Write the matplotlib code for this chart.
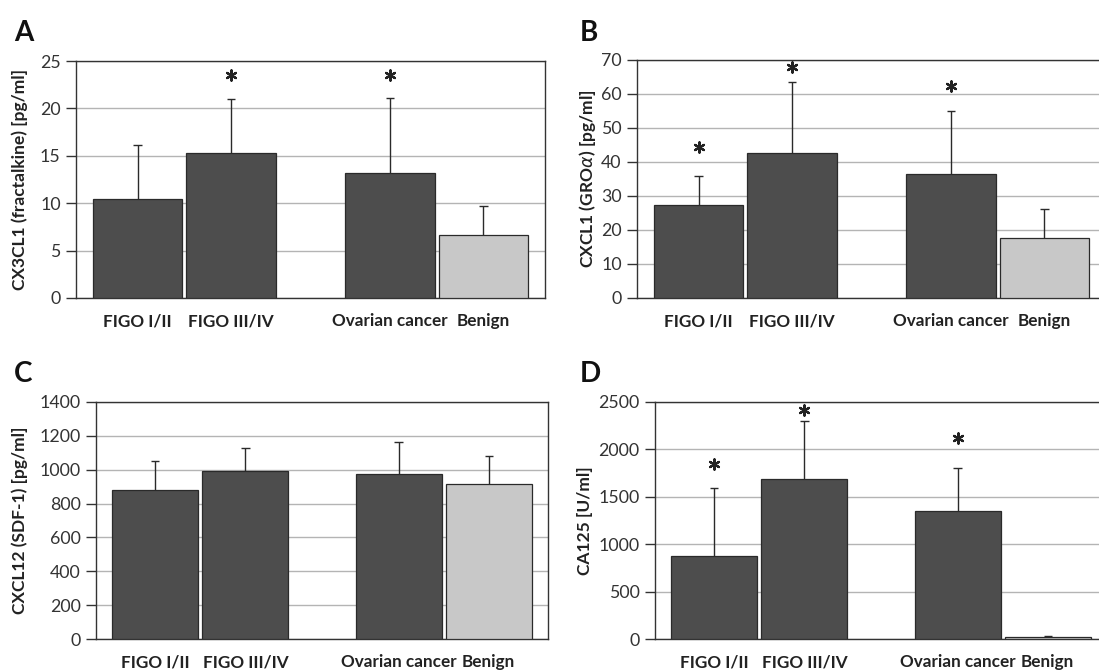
import matplotlib
matplotlib.use("Agg")
import matplotlib.pyplot as plt

plt.rcParams["font.family"] = ["Lato", "DejaVu Sans"]

# Data (mean and upper SD per group)
groups = ["FIGO I/II", "FIGO III/IV", "Ovarian cancer", "Benign"]
positions = [0, 1, 2.7, 3.7]

cx3cl1_mean = [10.4, 15.3, 13.2, 6.6]
cx3cl1_sd = [5.7, 5.7, 7.9, 3.1]
cx3cl1_star = [None, 23.5, 23.5, None]

cxcl1_mean = [27.3, 42.7, 36.4, 17.6]
cxcl1_sd = [8.7, 20.7, 18.6, 8.7]
cxcl1_star = [44.5, 68.0, 62.5, None]

cxcl12_mean = [878, 994, 974, 917]
cxcl12_sd = [174, 134, 189, 163]
cxcl12_star = [None, None, None, None]

ca125_mean = [880, 1683, 1350, 18]
ca125_sd = [717, 617, 452, 10]
ca125_star = [1850, 2420, 2120, None]

bar_colors = ["#4d4d4d", "#4d4d4d", "#4d4d4d", "#c8c8c8"]

W, H = 1099, 671
fig = plt.figure(figsize=(W / 100, H / 100), dpi=100)


def rect(left, top, right, bottom):
    return [left / W, 1 - bottom / H, (right - left) / W, (bottom - top) / H]


panels = [
    ("A", rect(76, 61, 545, 298), cx3cl1_mean, cx3cl1_sd, cx3cl1_star,
     "CX3CL1 (fractalkine) [pg/ml]", (0, 25), 5, (14, 41), 20),
    ("B", rect(637, 60, 1106, 298), cxcl1_mean, cxcl1_sd, cxcl1_star,
     r"CXCL1 (GRO$\alpha$) [pg/ml]", (0, 70), 10, (580, 41), 587),
    ("C", rect(96, 402, 548, 639), cxcl12_mean, cxcl12_sd, cxcl12_star,
     "CXCL12 (SDF-1) [pg/ml]", (0, 1400), 200, (14, 382), 20),
    ("D", rect(655, 402, 1107, 639), ca125_mean, ca125_sd, ca125_star,
     "CA125 [U/ml]", (0, 2500), 500, (580, 382), 585),
]

for letter, r, means, sds, stars, ylabel, ylim, step, lpos, ylx in panels:
    ax = fig.add_axes(r)
    ax.bar(positions, means, width=0.955, color=bar_colors,
           edgecolor="#2a2a2a", linewidth=0.9, zorder=3)

    # upper error bars only
    tops = [m + s for m, s in zip(means, sds)]
    ax.vlines(positions, means, tops, color="#2a2a2a", linewidth=1, zorder=2)
    ax.hlines(tops, [p - 0.045 for p in positions], [p + 0.045 for p in positions],
              color="#2a2a2a", linewidth=1, zorder=2)

    # significance asterisks
    sx = [p for p, s in zip(positions, stars) if s is not None]
    sy = [s for s in stars if s is not None]
    if sx:
        ax.scatter(sx, sy, marker=(6, 2, 0), s=55, linewidths=1.6,
                   color="#222222", zorder=4, clip_on=False)

    ax.set_xlim(-0.66, 4.36)
    ax.set_ylim(*ylim)
    ax.set_yticks(range(ylim[0], ylim[1] + 1, step))
    ax.yaxis.grid(True, color="#b4b4b4", linewidth=1)
    ax.set_axisbelow(True)
    ax.set_xticks(positions)
    ax.set_xticklabels(groups, fontsize=12.3, fontweight="bold", color="#222222")
    ax.tick_params(axis="x", length=0, pad=11)
    ax.tick_params(axis="y", direction="out", length=7, width=1, color="#333333",
                   labelsize=12.8, labelcolor="#333333", pad=4)
    for sp in ax.spines.values():
        sp.set_color("#333333")
        sp.set_linewidth(1)

    fig.text(ylx / W, r[1] + r[3] / 2, ylabel, rotation=90, ha="center", va="center",
             fontsize=12.5, fontweight="bold", color="#222222")
    fig.text(lpos[0] / W, 1 - lpos[1] / H, letter, fontsize=20, fontweight="bold",
             color="#111111", ha="left", va="baseline")

fig.savefig("out.png", dpi=100)
